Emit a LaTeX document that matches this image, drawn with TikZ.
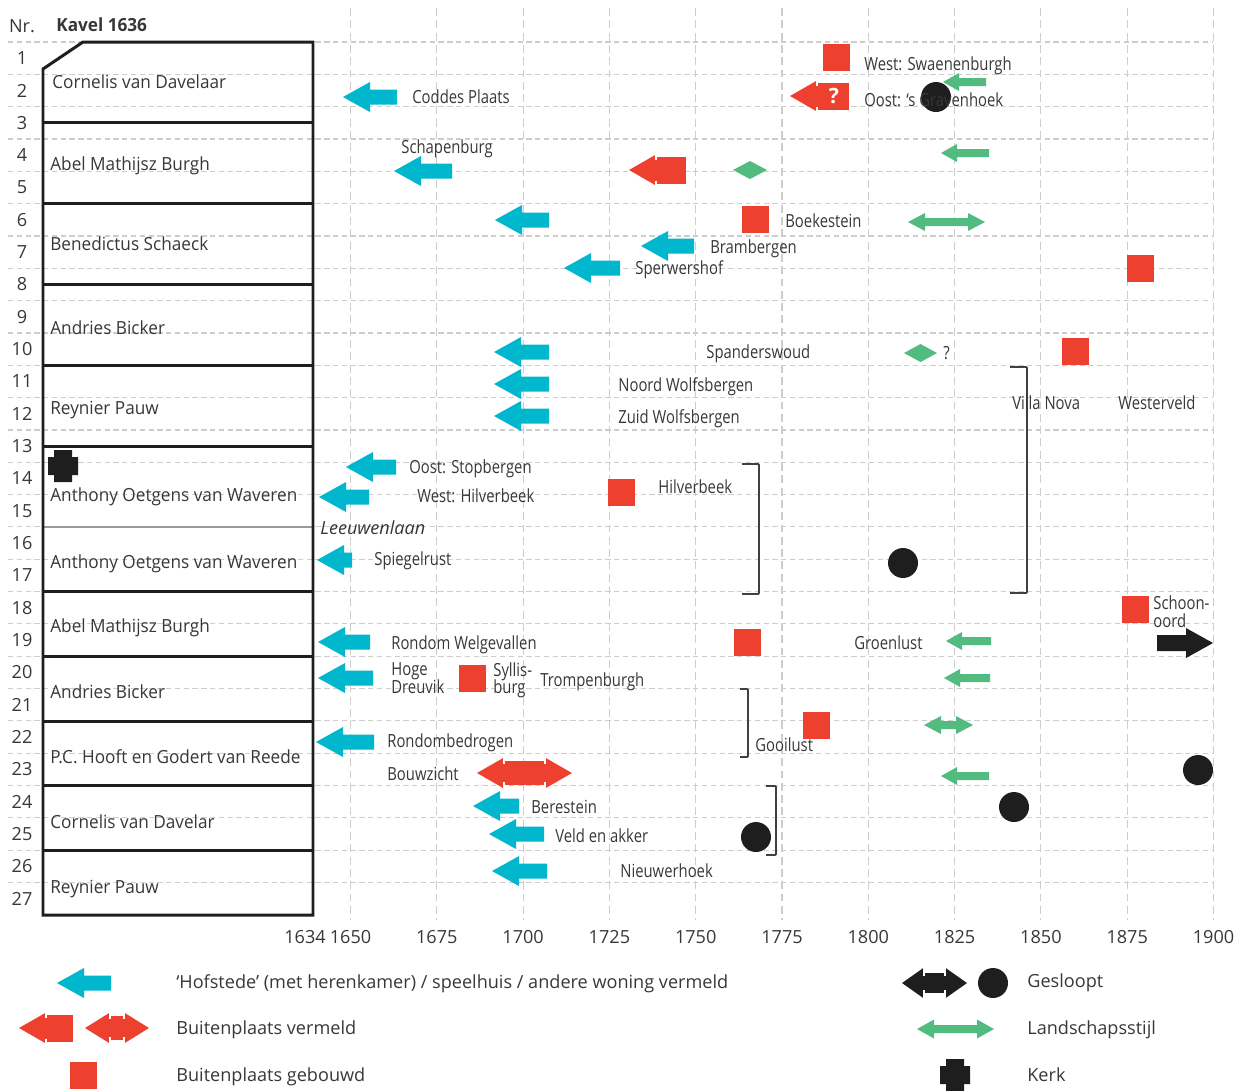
\documentclass[tikz,border=0pt]{standalone}
\usepackage{fontspec}
\setmainfont{Open Sans}
\newfontfamily\condf[FakeStretch=0.82]{Open Sans}
\newfontfamily\boxf[FakeStretch=0.95]{Open Sans}
\definecolor{cy}{RGB}{0,183,206}
\definecolor{rd}{RGB}{238,64,46}
\definecolor{gr}{RGB}{82,187,128}
\definecolor{blk}{RGB}{30,30,30}
\definecolor{gridc}{RGB}{205,205,205}
\definecolor{txt}{RGB}{55,55,55}
% generic left arrow: color, tip x, end x, y, head len, head half, shaft half
\newcommand\larr[7]{\fill[#1] (#2,#4) -- (#2+#5,#4-#6) -- (#2+#5,#4-#7) -- (#3,#4-#7) -- (#3,#4+#7) -- (#2+#5,#4+#7) -- (#2+#5,#4+#6) -- cycle;}
\newcommand\rarrow[7]{\fill[#1] (#3,#4) -- (#3-#5,#4-#6) -- (#3-#5,#4-#7) -- (#2,#4-#7) -- (#2,#4+#7) -- (#3-#5,#4+#7) -- (#3-#5,#4+#6) -- cycle;}
\newcommand\dblarr[7]{\fill[#1] (#2,#4) -- (#2+#5,#4-#6) -- (#2+#5,#4-#7) -- (#3-#5,#4-#7) -- (#3-#5,#4-#6) -- (#3,#4) -- (#3-#5,#4+#6) -- (#3-#5,#4+#7) -- (#2+#5,#4+#7) -- (#2+#5,#4+#6) -- cycle;}
% notched single left arrow
\newcommand\nsingle[7]{\fill[#1] (#2,#4) -- (#2+#5,#4-#6) -- (#2+#5,#4+#6) -- cycle;
  \fill[#1] (#2+#5,#4-#7) rectangle (#3,#4+#7);
  \draw[white,line width=1.1pt] (#2+#5,#4-#6-1) -- (#2+#5,#4-#7+3) (#2+#5,#4+#7-3) -- (#2+#5,#4+#6+1);}
% notched double arrow
\newcommand\ndbl[7]{\fill[#1] (#2,#4) -- (#2+#5,#4-#6) -- (#2+#5,#4+#6) -- cycle;
  \fill[#1] (#3,#4) -- (#3-#5,#4-#6) -- (#3-#5,#4+#6) -- cycle;
  \fill[#1] (#2+#5,#4-#7) rectangle (#3-#5,#4+#7);
  \draw[white,line width=1.1pt] (#2+#5,#4-#6-1) -- (#2+#5,#4-#7+3) (#2+#5,#4+#7-3) -- (#2+#5,#4+#6+1)
     (#3-#5,#4-#6-1) -- (#3-#5,#4-#7+3) (#3-#5,#4+#7-3) -- (#3-#5,#4+#6+1);}
\newcommand\cyarr[3]{\larr{cy}{#1}{#2}{#3}{27}{15}{7.5}}
\newcommand\grarr[3]{\larr{gr}{#1}{#2}{#3}{16}{9}{4}}
\newcommand\grdbl[3]{\dblarr{gr}{#1}{#2}{#3}{17}{9}{4}}
\newcommand\grdia[3]{\fill[gr] (#1,#3) -- ({(#1+#2)/2},#3-9) -- (#2,#3) -- ({(#1+#2)/2},#3+9) -- cycle;}
\newcommand\rsq[2]{\fill[rd] (#1-13.5,#2-13.5) rectangle (#1+13.5,#2+13.5);}
\newcommand\kdot[2]{\fill[blk] (#1,#2) circle[radius=0.3cm];}
\newcommand\kcross[2]{\fill[blk] (#1-9,#2-16) -- (#1+9,#2-16) -- (#1+9,#2-9) -- (#1+15,#2-9) -- (#1+15,#2+9) -- (#1+9,#2+9) -- (#1+9,#2+16) -- (#1-9,#2+16) -- (#1-9,#2+9) -- (#1-15,#2+9) -- (#1-15,#2-9) -- (#1-9,#2-9) -- cycle;}
\begin{document}
\begin{tikzpicture}[x=0.02cm,y=-0.02cm,
  gridh/.style={gridc,line width=0.6pt,dash pattern=on 3pt off 2pt},
  gridv/.style={gridc,line width=0.6pt,dash pattern=on 4.5pt off 2.5pt},
  boxline/.style={blk,line width=1.7pt,line join=miter},
  brk/.style={black!75,line width=1.1pt,rounded corners=0.6pt},
  chartlab/.style={anchor=west,inner sep=0pt,text height=7.4pt,text depth=0pt,text=txt,font=\condf\fontsize{10.3}{12}\selectfont},
  boxlab/.style={anchor=west,inner sep=0pt,text height=7.4pt,text depth=0pt,text=txt,font=\boxf\fontsize{10.3}{12}\selectfont},
  leglab/.style={anchor=west,inner sep=0pt,text height=7.4pt,text depth=0pt,text=txt,font=\fontsize{10.3}{12}\selectfont},
  nrlab/.style={anchor=center,inner sep=0pt,text height=7.4pt,text depth=0pt,text=txt,font=\fontsize{10.3}{12}\selectfont},
]
\useasboundingbox (0,0) rectangle (1236,1090);
% grid
\foreach \k in {0,...,26} \draw[gridh] (8,{42+32.33*\k}) -- (1213,{42+32.33*\k});
\foreach \yr in {1650,1675,...,1900} \draw[gridv] ({350.5+(\yr-1650)*3.452},8) -- ({350.5+(\yr-1650)*3.452},920);
% header
\node[nrlab] (hnr) at (22,26) {Nr.};
\node[boxlab,font=\boxf\bfseries\fontsize{10.3}{12}\selectfont] (hkavel) at (56,25) {Kavel 1636};
% row numbers
\foreach \r in {1,...,27} \node[nrlab] (nr\r) at (22,{42+32.33*(\r-0.5)}) {\r};
% kavel boxes
\draw[black!40,line width=1.2pt] (43,527) -- (313,527);
\draw[boxline] (43,69) -- (83,42) -- (313,42) -- (313,915) -- (43,915) -- cycle;
\foreach \yy in {122.8,203.7,284.5,365.3,446.1,591.7,656.3,721,785.6,850.3} \draw[boxline] (43,\yy) -- (313,\yy);
\node[boxlab] (k1) at (52,82) {Cornelis van Davelaar};
\node[boxlab] (k2) at (50,164) {Abel Mathijsz Burgh};
\node[boxlab] (k3) at (50,244) {Benedictus Schaeck};
\node[boxlab] (k4) at (50,328) {Andries Bicker};
\node[boxlab] (k5) at (50,408) {Reynier Pauw};
\node[boxlab] (k6) at (50,495) {Anthony Oetgens van Waveren};
\node[boxlab] (k7) at (50,562) {Anthony Oetgens van Waveren};
\node[boxlab] (k8) at (50,626) {Abel Mathijsz Burgh};
\node[boxlab] (k9) at (50,692) {Andries Bicker};
\node[boxlab] (k10) at (50,757) {P.C. Hooft en Godert van Reede};
\node[boxlab] (k11) at (50,822) {Cornelis van Davelar};
\node[boxlab] (k12) at (50,887) {Reynier Pauw};
\kcross{63}{466}
\node[boxlab,font=\itshape\fontsize{10.3}{12}\selectfont] (leeuw) at (320,528) {Leeuwenlaan};
% cyan arrows
\cyarr{343}{397}{97}
\cyarr{394}{452}{171}
\cyarr{495}{549}{220}
\cyarr{641}{694}{246}
\cyarr{564}{620}{268}
\cyarr{494}{549}{352}
\cyarr{494}{549}{384}
\cyarr{494}{549}{416}
\cyarr{346}{396}{467}
\cyarr{319}{369}{497}
\cyarr{317}{352}{560}
\cyarr{318}{370}{642}
\cyarr{318}{373}{678}
\cyarr{316}{374}{742}
\cyarr{473}{519}{806}
\cyarr{489}{544}{834}
\cyarr{492}{547}{871}
% green
\grarr{943}{986}{82}
\grarr{941}{989}{153}
\grarr{946}{991}{641}
\grarr{944}{990}{678}
\grarr{941}{989}{776}
\grdbl{908}{985}{222}
\grdbl{924}{973}{725}
\grdia{733}{767}{170}
\grdia{904}{937}{353}
% red
\nsingle{rd}{629}{686}{170}{27}{15.5}{13.5}
\nsingle{rd}{790}{849}{96}{27}{15.5}{13.5}
\node[inner sep=0pt,text=white,font=\bfseries\fontsize{12}{14}\selectfont] (qm) at (834,96) {?};
\ndbl{rd}{477}{572}{773}{27}{15.5}{12}
\rsq{836}{57}
\rsq{755}{219}
\rsq{1140}{268}
\rsq{1075}{351}
\rsq{621}{492}
\rsq{1135}{609}
\rsq{747}{642}
\rsq{472}{678}
\rsq{816}{725}
% black
\rarrow{blk}{1157}{1213}{643}{27}{15}{8}
\kdot{936}{97}
\kdot{903}{563}
\kdot{1198}{770}
\kdot{1014}{807}
\kdot{756}{837}
% brackets
\draw[brk] (742,464) -- (759,464) -- (759,594) -- (742,594);
\draw[brk] (1010,367) -- (1027,367) -- (1027,593) -- (1010,593);
\draw[brk] (740,689) -- (748,689) -- (748,757) -- (740,757);
\draw[brk] (766,786) -- (776,786) -- (776,855) -- (766,855);
% chart labels
\node[chartlab] (t1) at (412,97) {Coddes Plaats};
\node[chartlab] (t2) at (401,147) {Schapenburg};
\node[chartlab] (t3) at (710,247) {Brambergen};
\node[chartlab] (t4) at (635,268) {Sperwershof};
\node[chartlab] (t5) at (864,64) {West: Swaenenburgh};
\node[chartlab] (t6) at (864,100) {Oost: ‘s Gravenhoek};
\node[chartlab] (t7) at (785,221) {Boekestein};
\node[chartlab] (t8) at (706,352) {Spanderswoud};
\node[chartlab] (t9) at (943,353) {?};
\node[chartlab] (t10) at (618,385) {Noord Wolfsbergen};
\node[chartlab] (t11) at (618,417) {Zuid Wolfsbergen};
\node[chartlab] (t12) at (1012,403) {Villa Nova};
\node[chartlab] (t13) at (1118,403) {Westerveld};
\node[chartlab] (t14) at (409,467) {Oost: Stopbergen};
\node[chartlab] (t15) at (417,496) {West: Hilverbeek};
\node[chartlab] (t16) at (658,487) {Hilverbeek};
\node[chartlab] (t17) at (374,559) {Spiegelrust};
\node[chartlab] (t18a) at (1153,603) {Schoon-};
\node[chartlab] (t18b) at (1153,621) {oord};
\node[chartlab] (t19) at (391,643) {Rondom Welgevallen};
\node[chartlab] (t20) at (854,643) {Groenlust};
\node[chartlab] (t21a) at (391,669) {Hoge};
\node[chartlab] (t21b) at (391,687) {Dreuvik};
\node[chartlab] (t22a) at (493,670) {Syllis-};
\node[chartlab] (t22b) at (493,687) {burg};
\node[chartlab] (t23) at (540,680) {Trompenburgh};
\node[chartlab] (t24) at (387,741) {Rondombedrogen};
\node[chartlab] (t25) at (755,745) {Gooilust};
\node[chartlab] (t26) at (387,774) {Bouwzicht};
\node[chartlab] (t27) at (531,807) {Berestein};
\node[chartlab] (t28) at (555,836) {Veld en akker};
\node[chartlab] (t29) at (620,871) {Nieuwerhoek};
% axis labels
\node[nrlab] (ax0) at (305,937) {1634};
\foreach \yr in {1650,1675,...,1900} \node[nrlab] (ax\yr) at ({350.5+(\yr-1650)*3.452},937) {\yr};
% legend
\cyarr{57}{111}{983}
\nsingle{rd}{19}{73}{1028}{27}{15.5}{13.5}
\ndbl{rd}{85}{149}{1028}{25}{15.5}{12}
\rsq{83}{1075}
\ndbl{blk}{902}{967}{983}{22}{15.5}{10}
\kdot{993}{983}
\dblarr{gr}{917}{994}{1029}{17}{9.5}{4}
\kcross{955}{1075}
\node[leglab] (l1) at (176,982) {‘Hofstede’ (met herenkamer) / speelhuis / andere woning vermeld};
\node[leglab] (l2) at (176,1028) {Buitenplaats vermeld};
\node[leglab] (l3) at (176,1075) {Buitenplaats gebouwd};
\node[leglab] (l4) at (1027,981) {Gesloopt};
\node[leglab] (l5) at (1027,1028) {Landschapsstijl};
\node[leglab] (l6) at (1027,1075) {Kerk};
\end{tikzpicture}
\end{document}
